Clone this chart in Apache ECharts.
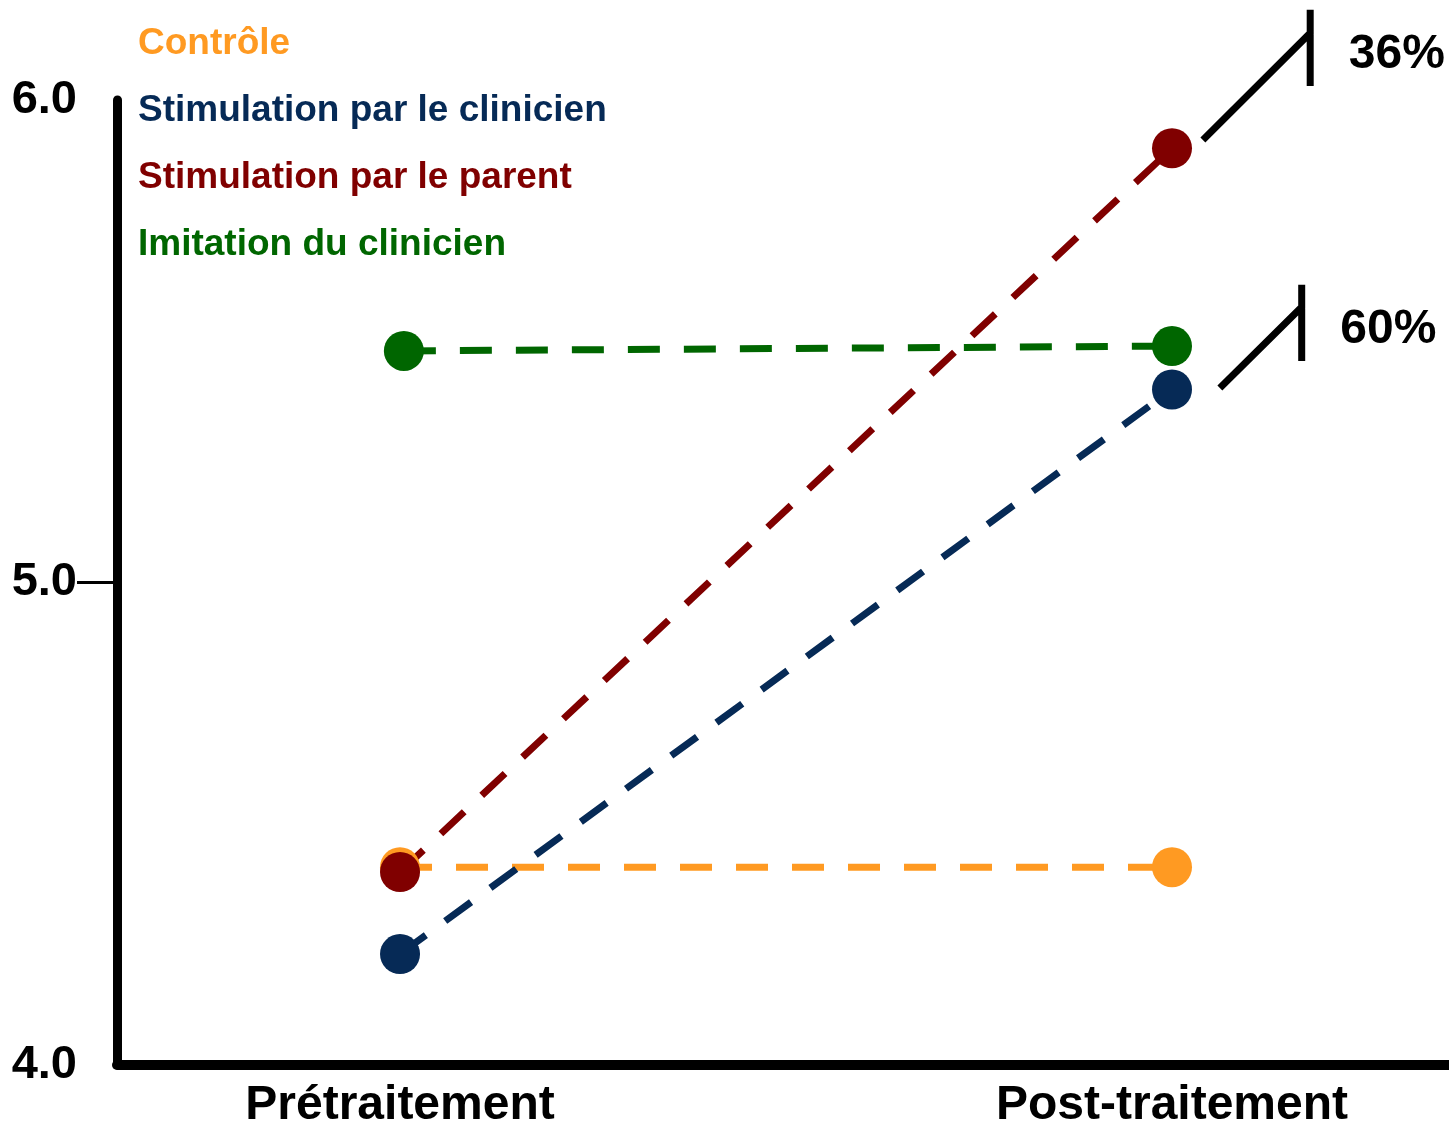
<!DOCTYPE html>
<html>
<head>
<meta charset="utf-8">
<script src="https://cdn.jsdelivr.net/npm/echarts@6/dist/echarts.min.js"></script>
<style>
  html, body { margin: 0; padding: 0; background: #fff; }
  #chart { width: 1449px; height: 1127px; }
</style>
</head>
<body>
<div id="chart"></div>
<script>
// axes
const phases = ['Prétraitement', 'Post-traitement'];
const phasePos = [0, 1];
const yTicks = [4, 5, 6];

// groups (pre, post)
const groups = ['Contrôle', 'Stimulation par le clinicien', 'Stimulation par le parent', 'Imitation du clinicien'];
const controle = [4.41, 4.41];
const clinicien = [4.23, 5.40];
const parent = [4.40, 5.90];
const imitation = [5.48, 5.49];
const imitationPreX = 0.005; // green pre point sits a touch to the right
const colors = ['#FF9A22', '#062A56', '#800000', '#006600'];

// break marks with % labels (data coords)
const breakLabels = ['36%', '60%'];
const breakSlantStart = [[1.040, 5.917], [1.062, 5.403]];
const breakBarX = [1.179, 1.168];
const breakJoinY = [6.139, 5.571];
const breakBarTop = [6.187, 5.617];
const breakBarBottom = [6.029, 5.459];
const breakLabelPos = [[1.229, 6.094], [1.218, 5.523]];

const font = 'Liberation Sans, Arial, sans-serif';
let chart = echarts.init(document.getElementById('chart'));

function pts(vals, preX) {
    return [[preX, vals[0]], [phasePos[1], vals[1]]];
}

let seriesList = [controle, clinicien, parent, imitation].map(function (vals, i) {
    return {
        name: groups[i],
        type: 'line',
        data: pts(vals, i === 3 ? imitationPreX : phasePos[0]),
        symbol: 'circle',
        symbolSize: 40,
        itemStyle: { color: colors[i] },
        lineStyle: { color: colors[i], width: 7, type: [32, 24] },
        silent: true
    };
});

for (let k = 0; k < breakLabels.length; k++) {
    seriesList.push({
        type: 'line',
        data: [
            breakSlantStart[k],
            [breakBarX[k], breakJoinY[k]],
            [breakBarX[k], breakBarTop[k]],
            [breakBarX[k], breakBarBottom[k]]
        ],
        symbol: 'none',
        clip: false,
        silent: true,
        lineStyle: { color: '#000', width: 7, join: 'miter' }
    });
}

seriesList.push({
    type: 'scatter',
    symbolSize: 0,
    clip: false,
    silent: true,
    itemStyle: { color: '#000', opacity: 1 },
    data: breakLabels.map(function (t, k) {
        return { name: t, value: breakLabelPos[k] };
    }),
    label: {
        show: true,
        position: 'right',
        distance: 0,
        formatter: '{b}',
        color: '#000',
        opacity: 1,
        fontSize: 48,
        fontWeight: 'bold',
        fontFamily: font
    }
});

chart.setOption({
    animation: false,
    backgroundColor: '#fff',
    grid: { left: 117, right: 0, top: 100, bottom: 62, containLabel: false, outerBoundsMode: 'none' },
    legend: {
        orient: 'vertical',
        left: 127,
        top: 19,
        itemWidth: 0,
        itemHeight: 0,
        itemGap: 27,
        selectedMode: false,
        data: groups.map(function (g, i) {
            return { name: g, textStyle: { color: colors[i] } };
        }),
        textStyle: { fontSize: 37, fontWeight: 'bold', fontFamily: font, lineHeight: 40 }
    },
    xAxis: {
        type: 'value',
        min: -0.3666,
        max: 1.3588,
        splitLine: { show: false },
        axisLine: { show: true, onZero: false, lineStyle: { color: '#000', width: 10 } },
        axisTick: { show: false },
        axisLabel: {
            customValues: phasePos,
            formatter: function (v) { return phases[phasePos.indexOf(v)]; },
            color: '#000',
            fontSize: 48,
            fontWeight: 'bold',
            fontFamily: font,
            margin: 17
        }
    },
    yAxis: {
        type: 'value',
        min: 4,
        max: 6,
        interval: 1,
        splitLine: { show: false },
        axisLine: { show: true, onZero: false, lineStyle: { color: '#000', width: 9 } },
        axisTick: { show: true, customValues: [5], length: 40, lineStyle: { color: '#000', width: 3 } },
        axisLabel: {
            customValues: yTicks,
            formatter: function (v) { return v.toFixed(1); },
            color: '#000',
            fontSize: 47,
            fontWeight: 'bold',
            fontFamily: font,
            margin: 40,
            padding: [0, 0, 10, 0]
        }
    },
    series: seriesList
});
</script>
</body>
</html>
